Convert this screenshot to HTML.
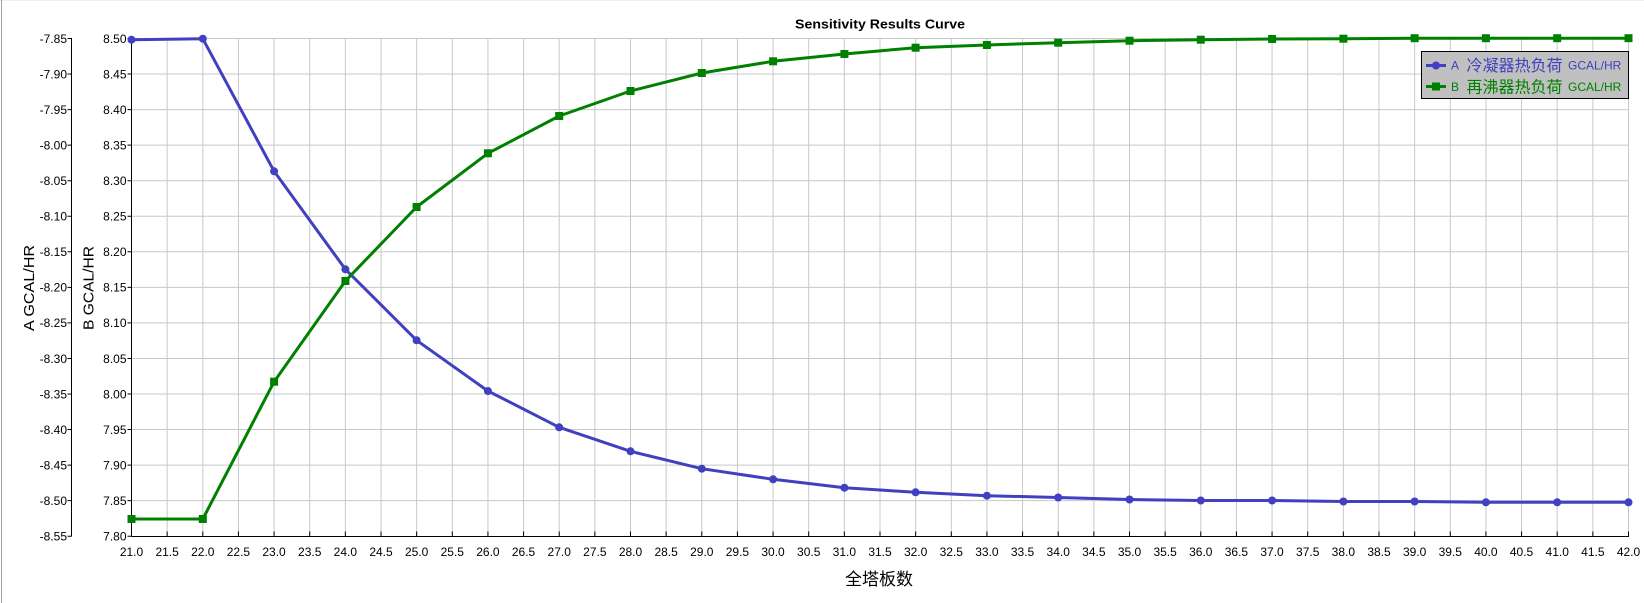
<!DOCTYPE html>
<html>
<head>
<meta charset="utf-8">
<style>
html,body{margin:0;padding:0;background:#fff;}
body{width:1644px;height:603px;overflow:hidden;}
svg{display:block;}
text{font-family:"Liberation Sans","Noto Sans CJK SC",sans-serif;}
</style>
</head>
<body>
<svg width="1644" height="603" viewBox="0 0 1644 603" xmlns="http://www.w3.org/2000/svg">
<rect x="0" y="0" width="1644" height="603" fill="#fff"/>
<rect x="0" y="0" width="1644" height="1" fill="#f0f0f0"/>
<rect x="1" y="0" width="1" height="603" fill="#a0a0a8"/>

<!-- grid -->
<g stroke="#c8c8c8" stroke-width="1" fill="none">
<path d="M167.14 38.5V536.5M202.79 38.5V536.5M238.43 38.5V536.5M274.07 38.5V536.5M309.71 38.5V536.5M345.36 38.5V536.5M381 38.5V536.5M416.64 38.5V536.5M452.29 38.5V536.5M487.93 38.5V536.5M523.57 38.5V536.5M559.21 38.5V536.5M594.86 38.5V536.5M630.5 38.5V536.5M666.14 38.5V536.5M701.79 38.5V536.5M737.43 38.5V536.5M773.07 38.5V536.5M808.71 38.5V536.5M844.36 38.5V536.5M880 38.5V536.5M915.64 38.5V536.5M951.29 38.5V536.5M986.93 38.5V536.5M1022.57 38.5V536.5M1058.21 38.5V536.5M1093.86 38.5V536.5M1129.5 38.5V536.5M1165.14 38.5V536.5M1200.79 38.5V536.5M1236.43 38.5V536.5M1272.07 38.5V536.5M1307.71 38.5V536.5M1343.36 38.5V536.5M1379 38.5V536.5M1414.64 38.5V536.5M1450.29 38.5V536.5M1485.93 38.5V536.5M1521.57 38.5V536.5M1557.21 38.5V536.5M1592.86 38.5V536.5M1628.5 38.5V536.5"/>
<path d="M131.5 38.5H1628.5M131.5 74.05H1628.5M131.5 109.6H1628.5M131.5 145.15H1628.5M131.5 180.7H1628.5M131.5 216.25H1628.5M131.5 251.8H1628.5M131.5 287.35H1628.5M131.5 322.9H1628.5M131.5 358.45H1628.5M131.5 394H1628.5M131.5 429.55H1628.5M131.5 465.1H1628.5M131.5 500.65H1628.5"/>
</g>

<!-- axes -->
<g stroke="#000" stroke-width="1" fill="none">
<path d="M71.5 38V536.5"/>
<path d="M131.5 38V536.5"/>
<path d="M131.5 536.5H1629"/>
<!-- y ticks A -->
<path d="M67.5 38.5H71.5M67.5 74.05H71.5M67.5 109.6H71.5M67.5 145.15H71.5M67.5 180.7H71.5M67.5 216.25H71.5M67.5 251.8H71.5M67.5 287.35H71.5M67.5 322.9H71.5M67.5 358.45H71.5M67.5 394H71.5M67.5 429.55H71.5M67.5 465.1H71.5M67.5 500.65H71.5M67.5 536.2H71.5"/>
<!-- y ticks B -->
<path d="M127.5 38.5H131.5M127.5 74.05H131.5M127.5 109.6H131.5M127.5 145.15H131.5M127.5 180.7H131.5M127.5 216.25H131.5M127.5 251.8H131.5M127.5 287.35H131.5M127.5 322.9H131.5M127.5 358.45H131.5M127.5 394H131.5M127.5 429.55H131.5M127.5 465.1H131.5M127.5 500.65H131.5M127.5 536.2H131.5"/>
<!-- x ticks -->
<path d="M131.5 531.5V536.5M167.14 531.5V536.5M202.79 531.5V536.5M238.43 531.5V536.5M274.07 531.5V536.5M309.71 531.5V536.5M345.36 531.5V536.5M381 531.5V536.5M416.64 531.5V536.5M452.29 531.5V536.5M487.93 531.5V536.5M523.57 531.5V536.5M559.21 531.5V536.5M594.86 531.5V536.5M630.5 531.5V536.5M666.14 531.5V536.5M701.79 531.5V536.5M737.43 531.5V536.5M773.07 531.5V536.5M808.71 531.5V536.5M844.36 531.5V536.5M880 531.5V536.5M915.64 531.5V536.5M951.29 531.5V536.5M986.93 531.5V536.5M1022.57 531.5V536.5M1058.21 531.5V536.5M1093.86 531.5V536.5M1129.5 531.5V536.5M1165.14 531.5V536.5M1200.79 531.5V536.5M1236.43 531.5V536.5M1272.07 531.5V536.5M1307.71 531.5V536.5M1343.36 531.5V536.5M1379 531.5V536.5M1414.64 531.5V536.5M1450.29 531.5V536.5M1485.93 531.5V536.5M1521.57 531.5V536.5M1557.21 531.5V536.5M1592.86 531.5V536.5M1628.5 531.5V536.5"/>
</g>

<!-- A axis labels -->
<g font-size="12" fill="#000" text-anchor="end">
<text x="67" y="42.8">-7.85</text>
<text x="67" y="78.35">-7.90</text>
<text x="67" y="113.9">-7.95</text>
<text x="67" y="149.45">-8.00</text>
<text x="67" y="185">-8.05</text>
<text x="67" y="220.55">-8.10</text>
<text x="67" y="256.1">-8.15</text>
<text x="67" y="291.65">-8.20</text>
<text x="67" y="327.2">-8.25</text>
<text x="67" y="362.75">-8.30</text>
<text x="67" y="398.3">-8.35</text>
<text x="67" y="433.85">-8.40</text>
<text x="67" y="469.4">-8.45</text>
<text x="67" y="504.95">-8.50</text>
<text x="67" y="540.5">-8.55</text>
</g>
<!-- B axis labels -->
<g font-size="12" fill="#000" text-anchor="end">
<text x="126.5" y="42.8">8.50</text>
<text x="126.5" y="78.35">8.45</text>
<text x="126.5" y="113.9">8.40</text>
<text x="126.5" y="149.45">8.35</text>
<text x="126.5" y="185">8.30</text>
<text x="126.5" y="220.55">8.25</text>
<text x="126.5" y="256.1">8.20</text>
<text x="126.5" y="291.65">8.15</text>
<text x="126.5" y="327.2">8.10</text>
<text x="126.5" y="362.75">8.05</text>
<text x="126.5" y="398.3">8.00</text>
<text x="126.5" y="433.85">7.95</text>
<text x="126.5" y="469.4">7.90</text>
<text x="126.5" y="504.95">7.85</text>
<text x="126.5" y="540.5">7.80</text>
</g>

<!-- x labels -->
<g font-size="12" fill="#000" text-anchor="middle">
<text x="131.5" y="556">21.0</text>
<text x="167.14" y="556">21.5</text>
<text x="202.79" y="556">22.0</text>
<text x="238.43" y="556">22.5</text>
<text x="274.07" y="556">23.0</text>
<text x="309.71" y="556">23.5</text>
<text x="345.36" y="556">24.0</text>
<text x="381" y="556">24.5</text>
<text x="416.64" y="556">25.0</text>
<text x="452.29" y="556">25.5</text>
<text x="487.93" y="556">26.0</text>
<text x="523.57" y="556">26.5</text>
<text x="559.21" y="556">27.0</text>
<text x="594.86" y="556">27.5</text>
<text x="630.5" y="556">28.0</text>
<text x="666.14" y="556">28.5</text>
<text x="701.79" y="556">29.0</text>
<text x="737.43" y="556">29.5</text>
<text x="773.07" y="556">30.0</text>
<text x="808.71" y="556">30.5</text>
<text x="844.36" y="556">31.0</text>
<text x="880" y="556">31.5</text>
<text x="915.64" y="556">32.0</text>
<text x="951.29" y="556">32.5</text>
<text x="986.93" y="556">33.0</text>
<text x="1022.57" y="556">33.5</text>
<text x="1058.21" y="556">34.0</text>
<text x="1093.86" y="556">34.5</text>
<text x="1129.5" y="556">35.0</text>
<text x="1165.14" y="556">35.5</text>
<text x="1200.79" y="556">36.0</text>
<text x="1236.43" y="556">36.5</text>
<text x="1272.07" y="556">37.0</text>
<text x="1307.71" y="556">37.5</text>
<text x="1343.36" y="556">38.0</text>
<text x="1379" y="556">38.5</text>
<text x="1414.64" y="556">39.0</text>
<text x="1450.29" y="556">39.5</text>
<text x="1485.93" y="556">40.0</text>
<text x="1521.57" y="556">40.5</text>
<text x="1557.21" y="556">41.0</text>
<text x="1592.86" y="556">41.5</text>
<text x="1628.5" y="556">42.0</text>
</g>

<!-- titles -->
<text x="880" y="28.5" font-size="13" font-weight="bold" text-anchor="middle" fill="#000" textLength="170" lengthAdjust="spacingAndGlyphs">Sensitivity Results Curve</text>
<text x="879" y="585" font-size="17" text-anchor="middle" fill="#000" style="font-family:'Noto Sans CJK SC','WenQuanYi Zen Hei',sans-serif">全塔板数</text>
<text transform="translate(34,288) rotate(-90)" font-size="15" text-anchor="middle" fill="#000" textLength="86" lengthAdjust="spacingAndGlyphs">A GCAL/HR</text>
<text transform="translate(93.5,288) rotate(-90)" font-size="15" text-anchor="middle" fill="#000" textLength="84" lengthAdjust="spacingAndGlyphs">B GCAL/HR</text>

<!-- series A (blue) -->
<polyline fill="none" stroke="#4040c0" stroke-width="3" stroke-linejoin="round" points="131.5,39.7 202.8,38.7 274.1,171.3 345.4,269.3 416.6,340.3 487.9,391 559.2,427.3 630.5,451.3 701.8,468.7 773.1,479.3 844.4,487.7 915.6,492.3 986.9,495.7 1058.2,497.5 1129.5,499.5 1200.8,500.5 1272.1,500.5 1343.4,501.5 1414.6,501.5 1485.9,502.3 1557.2,502.3 1628.5,502.3"/>
<g fill="#4040c0">
<circle cx="131.5" cy="39.7" r="4"/><circle cx="202.8" cy="38.7" r="4"/><circle cx="274.1" cy="171.3" r="4"/><circle cx="345.4" cy="269.3" r="4"/><circle cx="416.6" cy="340.3" r="4"/><circle cx="487.9" cy="391" r="4"/><circle cx="559.2" cy="427.3" r="4"/><circle cx="630.5" cy="451.3" r="4"/><circle cx="701.8" cy="468.7" r="4"/><circle cx="773.1" cy="479.3" r="4"/><circle cx="844.4" cy="487.7" r="4"/><circle cx="915.6" cy="492.3" r="4"/><circle cx="986.9" cy="495.7" r="4"/><circle cx="1058.2" cy="497.5" r="4"/><circle cx="1129.5" cy="499.5" r="4"/><circle cx="1200.8" cy="500.5" r="4"/><circle cx="1272.1" cy="500.5" r="4"/><circle cx="1343.4" cy="501.5" r="4"/><circle cx="1414.6" cy="501.5" r="4"/><circle cx="1485.9" cy="502.3" r="4"/><circle cx="1557.2" cy="502.3" r="4"/><circle cx="1628.5" cy="502.3" r="4"/>
</g>

<!-- series B (green) -->
<polyline fill="none" stroke="#008000" stroke-width="3" stroke-linejoin="round" points="131.5,519 202.8,519 274.1,381.7 345.4,281 416.6,207 487.9,153.3 559.2,116 630.5,91 701.8,73 773.1,61.3 844.4,54 915.6,47.7 986.9,45 1058.2,42.7 1129.5,40.7 1200.8,39.7 1272.1,39 1343.4,38.7 1414.6,38.2 1485.9,38.2 1557.2,38.2 1628.5,38.2"/>
<g fill="#008000">
<rect x="127.5" y="515" width="8" height="8"/><rect x="198.8" y="515" width="8" height="8"/><rect x="270.1" y="377.7" width="8" height="8"/><rect x="341.4" y="277" width="8" height="8"/><rect x="412.6" y="203" width="8" height="8"/><rect x="483.9" y="149.3" width="8" height="8"/><rect x="555.2" y="112" width="8" height="8"/><rect x="626.5" y="87" width="8" height="8"/><rect x="697.8" y="69" width="8" height="8"/><rect x="769.1" y="57.3" width="8" height="8"/><rect x="840.4" y="50" width="8" height="8"/><rect x="911.6" y="43.7" width="8" height="8"/><rect x="982.9" y="41" width="8" height="8"/><rect x="1054.2" y="38.7" width="8" height="8"/><rect x="1125.5" y="36.7" width="8" height="8"/><rect x="1196.8" y="35.7" width="8" height="8"/><rect x="1268.1" y="35" width="8" height="8"/><rect x="1339.4" y="34.7" width="8" height="8"/><rect x="1410.6" y="34.2" width="8" height="8"/><rect x="1481.9" y="34.2" width="8" height="8"/><rect x="1553.2" y="34.2" width="8" height="8"/><rect x="1624.5" y="34.2" width="8" height="8"/>
</g>

<!-- legend -->
<rect x="1421.5" y="51.5" width="207" height="47" fill="#c0c0c0" stroke="#000" stroke-width="1"/>
<path d="M1426 65.5H1446" stroke="#4040c0" stroke-width="3"/>
<circle cx="1436" cy="65.5" r="4" fill="#4040c0"/>
<text x="1451" y="69.5" font-size="12" fill="#4040c0">A</text>
<text x="1466.5" y="71" font-size="16" fill="#4040c0" style="font-family:'Noto Sans CJK SC','WenQuanYi Zen Hei',sans-serif">冷凝器热负荷</text>
<text x="1568" y="69.5" font-size="12" fill="#4040c0">GCAL/HR</text>
<path d="M1426 86.5H1446" stroke="#008000" stroke-width="3"/>
<rect x="1432" y="82.5" width="8" height="8" fill="#008000"/>
<text x="1451" y="91" font-size="12" fill="#008000">B</text>
<text x="1466.5" y="92.5" font-size="16" fill="#008000" style="font-family:'Noto Sans CJK SC','WenQuanYi Zen Hei',sans-serif">再沸器热负荷</text>
<text x="1568" y="91" font-size="12" fill="#008000">GCAL/HR</text>
</svg>
</body>
</html>
